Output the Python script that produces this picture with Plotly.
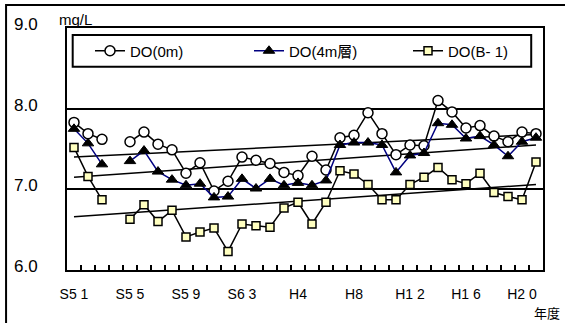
import plotly.graph_objects as go

years = ["S51","S52","S53","S54","S55","S56","S57","S58","S59","S60","S61","S62","S63",
         "H1","H2","H3","H4","H5","H6","H7","H8","H9","H10","H11","H12","H13","H14","H15",
         "H16","H17","H18","H19","H20","H21"]
tick_labels = {"S51": "S5 1", "S55": "S5 5", "S59": "S5 9", "S63": "S6 3", "H4": "H4",
               "H8": "H8", "H12": "H1 2", "H16": "H1 6", "H20": "H2 0"}

do_0m = [7.83, 7.69, 7.62, None, 7.59, 7.71, 7.56, 7.49, 7.20, 7.33, 6.98, 7.10, 7.40,
         7.36, 7.32, 7.21, 7.17, 7.41, 7.24, 7.64, 7.67, 7.95, 7.69, 7.43, 7.55, 7.54,
         8.10, 7.96, 7.76, 7.79, 7.66, 7.59, 7.71, 7.69]
do_4m = [7.75, 7.57, 7.31, None, 7.35, 7.48, 7.22, 7.12, 7.05, 7.07, 6.90, 6.91, 7.13,
         7.01, 7.13, 7.05, 7.08, 7.05, 7.11, 7.55, 7.58, 7.58, 7.55, 7.21, 7.42, 7.45,
         7.82, 7.80, 7.63, 7.66, 7.55, 7.41, 7.59, 7.64]
do_b1 = [7.52, 7.16, 6.87, None, 6.63, 6.81, 6.60, 6.74, 6.41, 6.47, 6.52, 6.23, 6.57,
         6.55, 6.53, 6.77, 6.84, 6.57, 6.84, 7.23, 7.19, 7.06, 6.87, 6.87, 7.06, 7.15,
         7.27, 7.12, 7.07, 7.20, 6.96, 6.91, 6.87, 7.34]
trend_0m = [7.40, 7.68]
trend_4m = [7.15, 7.55]
trend_b1 = [6.66, 7.06]
y_ticks = [6, 7, 8, 9]

W, H = 565, 323
L, R, T, B = 67, 543.5, 28, 270

def px(x):
    return (x - L) / (R - L)

def py(y):
    return (B - y) / (B - T)

FONT = "Liberation Sans, Arial, Noto Sans CJK JP"

fig = go.Figure()
trend_x = [years[0], years[-1]]
for tr in (trend_0m, trend_4m, trend_b1):
    fig.add_trace(go.Scatter(x=trend_x, y=tr, mode="lines", showlegend=False,
                             line=dict(color="black", width=1.5), hoverinfo="skip"))

fig.add_trace(go.Scatter(x=years, y=do_0m, name="DO(0m)", mode="lines+markers",
                         line=dict(color="black", width=1.5),
                         marker=dict(symbol="circle", size=10, color="white",
                                     line=dict(color="black", width=1.5))))
fig.add_trace(go.Scatter(x=years, y=do_4m, name="DO(4m層)", mode="lines+markers",
                         line=dict(color="#000080", width=1.5),
                         marker=dict(symbol="triangle-up", size=10, color="black",
                                     line=dict(color="black", width=1))))
fig.add_trace(go.Scatter(x=years, y=do_b1, name="DO(B- 1)", mode="lines+markers",
                         line=dict(color="black", width=1.5),
                         marker=dict(symbol="square", size=8, color="#FFFFC0",
                                     line=dict(color="black", width=1.5))))

fig.update_layout(
    width=W, height=H,
    margin=dict(l=L, r=W - R, t=T, b=H - B, autoexpand=False),
    paper_bgcolor="white", plot_bgcolor="white",
    font=dict(family=FONT, color="black", size=13),
    showlegend=True,
    legend=dict(orientation="h", xref="container", yref="container",
                x=90 / W, y=1 - 51 / H, xanchor="left", yanchor="middle",
                entrywidth=114, bgcolor="rgba(0,0,0,0)", borderwidth=0,
                font=dict(size=15, family=FONT)),
    xaxis=dict(type="category", categoryorder="array", categoryarray=years,
               range=[-0.5, len(years) - 0.5],
               tickmode="array", tickvals=years,
               ticktext=[tick_labels.get(y, "") for y in years],
               tickangle=0,
               tickson="boundaries", ticks="inside", ticklen=5, tickwidth=1.5,
               tickcolor="black", showgrid=False, zeroline=False,
               showline=True, linecolor="black", linewidth=2, mirror=True,
               tickfont=dict(size=14, family=FONT), ticklabelstandoff=10,
               fixedrange=True),
    yaxis=dict(range=[6, 9], tickmode="array", tickvals=y_ticks,
               ticktext=[f"{v:.1f}" for v in y_ticks],
               showgrid=True, gridcolor="black", gridwidth=1.5, zeroline=False,
               showline=True, linecolor="black", linewidth=2, mirror=True,
               ticks="", tickfont=dict(size=17, family=FONT),
               ticklabelstandoff=24, ticklabelshift=-4, fixedrange=True),
    shapes=[
        dict(type="rect", xref="paper", yref="paper", x0=px(72.7), x1=px(531.7),
             y0=py(66.7), y1=py(35), line=dict(color="black", width=2),
             fillcolor="white", layer="below"),
        dict(type="rect", xref="paper", yref="paper", x0=px(6), x1=px(600),
             y0=py(400), y1=py(5), line=dict(color="black", width=2),
             fillcolor="rgba(0,0,0,0)", layer="above"),
    ],
    annotations=[
        dict(text="mg/L", xref="paper", yref="paper", x=px(57), y=py(19),
             xanchor="left", yanchor="middle", showarrow=False,
             font=dict(size=15, family=FONT)),
        dict(text="年度", xref="paper", yref="paper", x=px(532), y=py(312),
             xanchor="left", yanchor="middle", showarrow=False,
             font=dict(size=13, family="Noto Sans CJK JP")),
    ],
)

fig.write_html("out.html", config={"displayModeBar": False},
               post_script="document.body.style.margin='0';document.body.style.padding='0';")
